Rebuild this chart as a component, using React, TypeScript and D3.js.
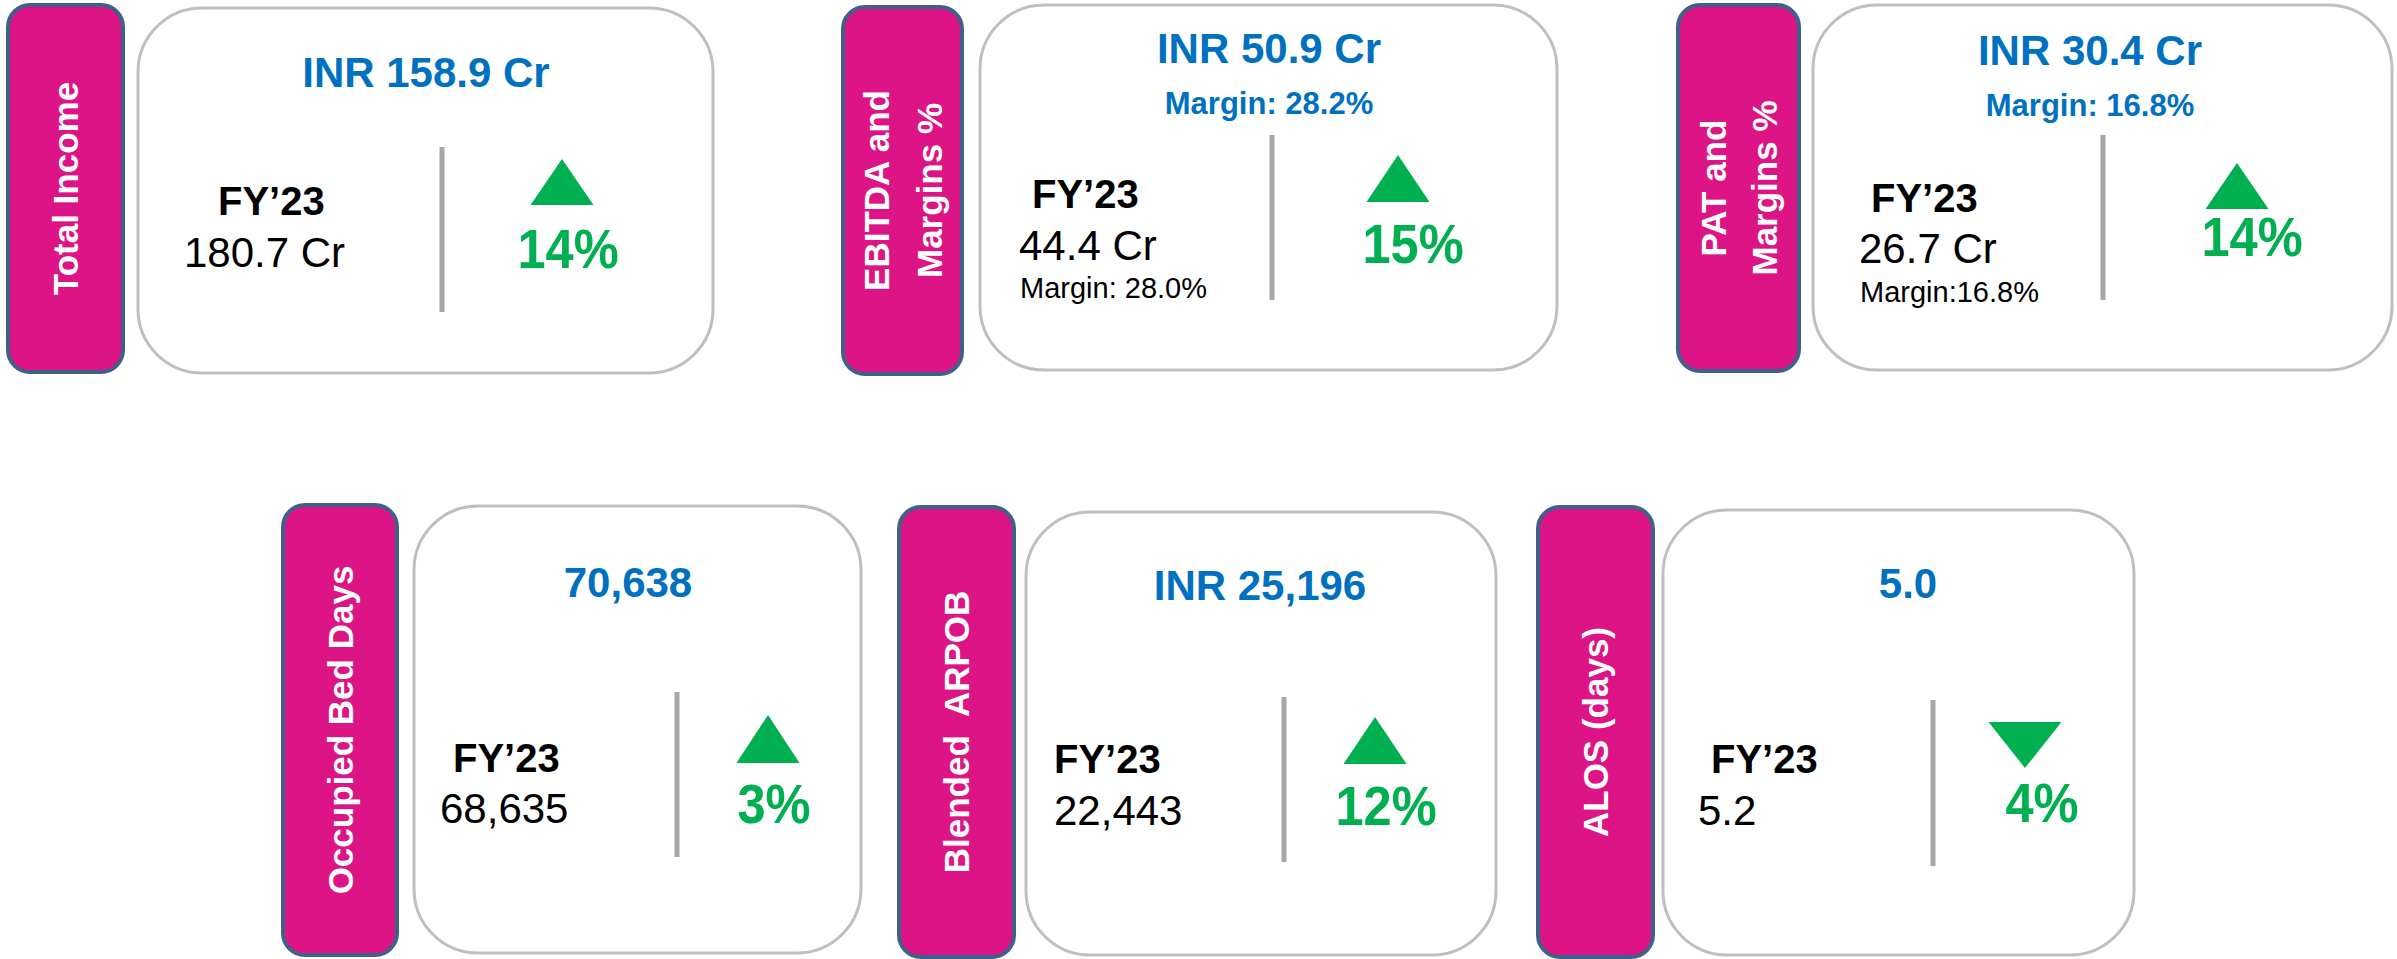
import React from "react";
import * as d3 from "d3";

// ---- data ----
const metricLabels: string[][] = [
  ["Total Income"],
  ["EBITDA and", "Margins %"],
  ["PAT and", "Margins %"],
  ["Occupied Bed Days"],
  ["Blended  ARPOB"],
  ["ALOS (days)"],
];
const currentValues = [158.9, 50.9, 30.4, 70638, 25196, 5.0];
const currentPrefix = ["INR ", "INR ", "INR ", "", "INR ", ""];
const valueSuffix = [" Cr", " Cr", " Cr", "", "", ""];
const currentMargins: (number | null)[] = [null, 28.2, 16.8, null, null, null];
const prevYearLabel = "FY\u201923";
const prevValues = [180.7, 44.4, 26.7, 68635, 22443, 5.2];
const prevMargins: (number | null)[] = [null, 28.0, 16.8, null, null, null];
const prevMarginSep = ["", " ", "", "", "", ""];
const changePct = [14, 15, 14, 3, 12, 4];
const changeDir = ["up", "up", "up", "up", "up", "down"];

// ---- layout ----
type L = {
  tab: [number, number, number, number];
  box: [number, number, number, number];
  lineOff: number[];
  title: [number, number];
  marginY?: number;
  fy: [number, number];
  val: [number, number];
  val2?: [number, number];
  div: [number, number, number];
  tri: [number, number, number, number];
  pct: [number, number];
};
const layout: L[] = [
  { tab: [8, 5, 115, 367], box: [138, 8, 575, 365], lineOff: [0], title: [426, 87], fy: [218, 215], val: [184, 267], div: [442, 147, 312], tri: [562, 159, 205, 63], pct: [568, 268] },
  { tab: [843, 7, 119, 367], box: [980, 5, 577, 365], lineOff: [-26, 27], title: [1269, 63], marginY: 114, fy: [1032, 208], val: [1019, 260], val2: [1020, 298], div: [1272, 135, 300], tri: [1398, 155, 202, 63], pct: [1413, 263] },
  { tab: [1678, 5, 121, 366], box: [1813, 5, 579, 365], lineOff: [-25, 26], title: [2090, 65], marginY: 116, fy: [1871, 212], val: [1859, 263], val2: [1860, 302], div: [2103, 135, 300], tri: [2237, 163, 209, 63], pct: [2252, 256] },
  { tab: [283, 505, 114, 450], box: [414, 506, 447, 447], lineOff: [0], title: [628, 597], fy: [453, 772], val: [440, 823], div: [677, 692, 857], tri: [768, 715, 763, 63], pct: [774, 823] },
  { tab: [899, 507, 115, 450], box: [1026, 512, 470, 443], lineOff: [0], title: [1260, 600], fy: [1054, 773], val: [1054, 825], div: [1284, 697, 862], tri: [1375, 717, 764, 63], pct: [1386, 825] },
  { tab: [1538, 507, 115, 450], box: [1663, 510, 471, 445], lineOff: [0], title: [1908, 598], fy: [1711, 773], val: [1698, 825], div: [1933, 700, 866], tri: [2025, 722, 768, 73], pct: [2042, 822] },
];

const FONT = "'Liberation Sans', Arial, Helvetica, sans-serif";
const MAGENTA = "#DD1486";
const TAB_STROKE = "#3F6089";
const BLUE = "#0070C0";
const GREEN = "#00B050";

const fmt = (v: number) => (v >= 1000 ? d3.format(",")(v) : d3.format(".1f")(v));

export default function App() {
  const W = 2397, H = 959;
  const tabFont = 35;
  return (
    <svg width={W} height={H} style={{ position: "absolute", left: 0, top: 0, background: "#fff" }} fontFamily={FONT}>
      <rect x={0} y={0} width={W} height={H} fill="#fff" />
      {layout.map((l, i) => {
        const [tx, ty, tw, th] = l.tab;
        const [bx, by, bw, bh] = l.box;
        const cx = tx + tw / 2, cy = ty + th / 2;
        const [triX, triY1, triY2, triW] = l.tri;
        const up = changeDir[i] === "up";
        const triPts = up
          ? [[triX - triW / 2, triY2], [triX + triW / 2, triY2], [triX, triY1]]
          : [[triX - triW / 2, triY1], [triX + triW / 2, triY1], [triX, triY2]];
        const triPath = d3.line()(triPts as [number, number][]) + "Z";
        return (
          <g key={i}>
            <rect x={tx} y={ty} width={tw} height={th} rx={22} ry={22} fill={MAGENTA} stroke={TAB_STROKE} strokeWidth={4} />
            <g transform={`translate(${cx},${cy}) rotate(-90)`}>
              {metricLabels[i].map((s, j) => (
                <text key={j} x={0} y={l.lineOff[j] + tabFont * 0.36} textAnchor="middle" fill="#fff" fontWeight="bold" fontSize={tabFont} style={{ whiteSpace: "pre" }}>
                  {s}
                </text>
              ))}
            </g>
            <rect x={bx} y={by} width={bw} height={bh} rx={64} ry={64} fill="#fff" stroke="#BFBFBF" strokeWidth={3} />
            <text x={l.title[0]} y={l.title[1]} textAnchor="middle" fill={BLUE} fontWeight="bold" fontSize={42}>
              {currentPrefix[i] + fmt(currentValues[i]) + valueSuffix[i]}
            </text>
            {currentMargins[i] !== null && l.marginY && (
              <text x={l.title[0]} y={l.marginY} textAnchor="middle" fill={BLUE} fontWeight="bold" fontSize={31}>
                {`Margin: ${d3.format(".1f")(currentMargins[i] as number)}%`}
              </text>
            )}
            <text x={l.fy[0]} y={l.fy[1]} fill="#000" fontWeight="bold" fontSize={40}>
              {prevYearLabel}
            </text>
            <text x={l.val[0]} y={l.val[1]} fill="#000" fontSize={42}>
              {fmt(prevValues[i]) + valueSuffix[i]}
            </text>
            {prevMargins[i] !== null && l.val2 && (
              <text x={l.val2[0]} y={l.val2[1]} fill="#000" fontSize={29}>
                {`Margin:${prevMarginSep[i]}${d3.format(".1f")(prevMargins[i] as number)}%`}
              </text>
            )}
            <line x1={l.div[0]} x2={l.div[0]} y1={l.div[1]} y2={l.div[2]} stroke="#A6A6A6" strokeWidth={5} />
            <path d={triPath} fill={GREEN} />
            <g transform={`translate(${l.pct[0]},${l.pct[1]}) scale(0.92,1)`}>
              <text x={0} y={0} textAnchor="middle" fill={GREEN} fontWeight="bold" fontSize={55}>
                {`${changePct[i]}%`}
              </text>
            </g>
          </g>
        );
      })}
    </svg>
  );
}
